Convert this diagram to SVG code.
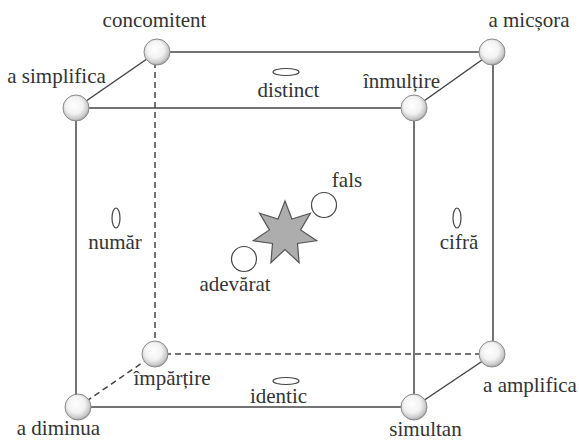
<svg xmlns="http://www.w3.org/2000/svg" width="579" height="441" viewBox="0 0 579 441">
<defs>
<radialGradient id="sph" cx="0.45" cy="0.42" r="0.6" fx="0.42" fy="0.38">
<stop offset="0" stop-color="#ffffff"/>
<stop offset="0.55" stop-color="#f2f2f2"/>
<stop offset="0.85" stop-color="#c8c8c8"/>
<stop offset="1" stop-color="#9a9a9a"/>
</radialGradient>
</defs>
<style>
.e{stroke:#444;stroke-width:1.5;fill:none}
.d{stroke:#444;stroke-width:1.5;fill:none;stroke-dasharray:6 4}
.s{fill:url(#sph);stroke:#8a8a8a;stroke-width:1}
.o{fill:#fff;stroke:#444;stroke-width:1.2}
</style>
<rect width="579" height="441" fill="#fff"/>
<g id="connectors">
<line class="e" x1="157" y1="52" x2="493" y2="52"/>
<line class="e" x1="76" y1="108" x2="414" y2="108"/>
<line class="e" x1="76" y1="108" x2="157" y2="52"/>
<line class="e" x1="414" y1="108" x2="493" y2="52"/>
<line class="e" x1="76" y1="108" x2="76" y2="407"/>
<line class="e" x1="414" y1="108" x2="414" y2="407"/>
<line class="e" x1="493" y1="52" x2="493" y2="354"/>
<line class="e" x1="78" y1="407" x2="414" y2="407"/>
<line class="e" x1="414" y1="407" x2="493" y2="354"/>
<line class="d" x1="155" y1="52" x2="155" y2="354"/>
<line class="d" x1="155" y1="354" x2="493" y2="354"/>
<line class="d" x1="78" y1="407" x2="155" y2="354"/>
</g>
<g font-family="Liberation Serif, serif" font-size="21" fill="#333" text-anchor="middle">
<g id="concomitent"><circle class="s" cx="157" cy="52" r="13"/><text x="154.5" y="27">concomitent</text></g>
<g id="a-micsora"><circle class="s" cx="492" cy="52" r="13"/><text x="529" y="27">a mic&#537;ora</text></g>
<g id="a-simplifica"><circle class="s" cx="76" cy="108" r="13"/><text x="56.5" y="83">a simplifica</text></g>
<g id="inmultire"><circle class="s" cx="414" cy="108" r="13"/><text x="401.5" y="88">&#238;nmul&#539;ire</text></g>
<g id="impartire"><circle class="s" cx="155" cy="354" r="13"/><text x="172" y="385">&#238;mp&#259;r&#539;ire</text></g>
<g id="a-amplifica"><circle class="s" cx="492" cy="354" r="13"/><text x="530" y="392">a amplifica</text></g>
<g id="a-diminua"><circle class="s" cx="78" cy="407" r="13"/><text x="58.5" y="435">a diminua</text></g>
<g id="simultan"><circle class="s" cx="414" cy="407" r="13"/><text x="425.5" y="436">simultan</text></g>
<g id="distinct"><ellipse class="o" cx="286" cy="72" rx="13" ry="3.5"/><text x="288.5" y="97">distinct</text></g>
<g id="identic"><ellipse class="o" cx="286" cy="381" rx="13" ry="3.5"/><text x="278.5" y="403">identic</text></g>
<g id="numar"><ellipse class="o" cx="116" cy="218" rx="4" ry="10"/><text x="115" y="249">num&#259;r</text></g>
<g id="cifra"><ellipse class="o" cx="457" cy="218" rx="4" ry="10"/><text x="459" y="249">cifr&#259;</text></g>
<g id="star"><polygon points="285,201 291.94,219.08 310.41,213.24 300.6,229.94 316.68,240.73 297.51,243.48 299.1,262.78 285,249.5 270.9,262.78 272.49,243.48 253.32,240.73 269.4,229.94 259.59,213.24 278.06,219.08" fill="#adadad" stroke="#555" stroke-width="1.2"/></g>
<g id="fals"><circle class="o" cx="324" cy="205" r="12.5"/><text x="347" y="187">fals</text></g>
<g id="adevarat"><circle class="o" cx="244" cy="259" r="12.5"/><text x="235" y="291">adev&#259;rat</text></g>
</g>
</svg>
